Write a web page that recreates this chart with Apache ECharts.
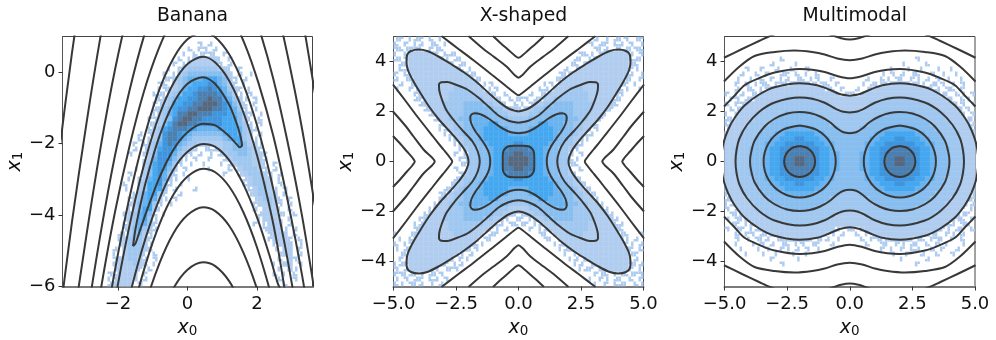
<!DOCTYPE html>
<html><head><meta charset="utf-8">
<style>html,body{margin:0;padding:0;background:#fff}#c{width:996px;height:340px}</style>
<script src="https://cdn.jsdelivr.net/npm/echarts@6/dist/echarts.min.js"></script>
</head><body><div id="c"></div>
<script>
const titles = ['Banana', 'X-shaped', 'Multimodal'];
const xTicksBanana = [-2, 0, 2];
const yTicksBanana = [-6, -4, -2, 0];
const xTicksWide = [-5, -2.5, 0, 2.5, 5];
const yTicksWide = [-4, -2, 0, 2, 4];

// Banana contours as [x0, x1]
const bananaA = [[-1.57,-4.87],[-1.5,-4.4],[-1.4,-3.91],[-1.2,-3.07],[-.8,-1.77],[-.4,-.86],[0,-.32],[.45,-.14],[.8,-.33],[1.2,-.91],[1.4,-1.39],[1.5,-1.7],[1.57,-2.05],[1.5,-2.1],[1.4,-2],[1.2,-1.79],[.8,-1.49],[.45,-1.44],[0,-1.68],[-.4,-2.16],[-.8,-2.93],[-1.2,-3.95],[-1.4,-4.52],[-1.5,-4.8],[-1.57,-4.87]];
const bananaB = [[-2.4,-8.25],[-2,-5.92],[-1.6,-3.98],[-1.2,-2.4],[-.8,-1.17],[-.4,-.3],[0,.23],[.45,.43],[.8,.27],[1.2,-.24],[1.6,-1.1],[2,-2.32],[2.4,-3.93],[2.6,-4.91],[2.8,-6.09],[2.84,-6.4],[2.6,-5.91],[2.4,-5.25],[2,-4.06],[1.6,-3.12],[1.2,-2.46],[.8,-2.09],[.45,-2.01],[0,-2.23],[-.4,-2.72],[-.8,-3.53],[-1.2,-4.62],[-1.6,-6],[-2,-7.66]];
const bananaCUp = [[-2.8,-9.86],[-2.4,-7.29],[-2,-5.08],[-1.6,-3.2],[-1.2,-1.66],[-.8,-.46],[-.4,.4],[0,.92],[.45,1.12],[.8,.98],[1.2,.5],[1.6,-.32],[2,-1.48],[2.4,-2.97],[2.8,-4.82],[3.2,-7.02]];
const bananaCLow = [[-2.4,-10.5],[-2,-8.5],[-1.6,-6.78],[-1.2,-5.36],[-.8,-4.24],[-.4,-3.42],[0,-2.92],[.45,-2.7],[.8,-2.8],[1.2,-3.2],[1.6,-3.9],[2,-4.9],[2.4,-6.21],[2.8,-7.8]];
const bananaDUp = [[-2.91,-8.61],[-2.5,-6.1],[-2.09,-3.92],[-1.67,-2.07],[-1.26,-.56],[-.84,.63],[-.43,1.48],[0,2],[.45,2.2],[.8,2.07],[1.23,1.6],[1.64,.81],[2.05,-.32],[2.47,-1.78],[2.88,-3.57],[3.3,-5.69],[3.71,-8.15]];
const bananaDLow = [[-2,-9.66],[-1.6,-7.91],[-1.2,-6.46],[-.8,-5.33],[-.4,-4.5],[0,-4],[.45,-3.78],[.8,-3.89],[1.2,-4.3],[1.6,-5.03],[2,-6.06],[2.4,-7.4]];
const bananaEUp = [[-3.74,-12.93],[-3.33,-9.79],[-2.91,-6.98],[-2.5,-4.5],[-2.09,-2.34],[-1.67,-.51],[-1.26,.99],[-.84,2.17],[-.43,3.02],[0,3.53],[.45,3.74],[.8,3.61],[1.23,3.15],[1.64,2.37],[2.05,1.26],[2.47,-.18],[2.88,-1.94],[3.3,-4.03],[3.71,-6.45]];
const bananaELow = [[-.8,-6.87],[-.4,-6.04],[0,-5.53],[.45,-5.32],[.8,-5.43],[1.2,-5.85],[1.6,-6.59]];
const bananaF = [[-3.74,-10.47],[-3.33,-7.35],[-2.91,-4.56],[-2.5,-2.09],[-2.09,.06],[-1.67,1.88],[-1.26,3.37],[.45,6.2],[1.64,4.76],[2.05,3.66],[2.47,2.23],[2.88,.48],[3.3,-1.59],[3.71,-3.99]];
const bananaG = [[-3.74,-7.31],[-3.33,-4.21],[-2.91,-1.43],[-2.5,1.03],[-2.09,3.17],[2.05,6.77],[2.47,5.35],[2.88,3.61],[3.3,1.55],[3.71,-.83]];
const bananaH = [[-3.74,-2.59],[-3.33,.52],[-2.91,3.3]];

// X-shaped contours: one quadrant of each, [|x0|, |x1|]
const xSquare = [[0,.63],[.2,.63],[.4,.61],[.52,.53],[.61,.4],[.63,.2],[.63,0]];
const xStar1 = [[0,1.13],[.3,1.17],[.6,1.3],[.9,1.5],[1.2,1.72],[1.5,1.88],[1.75,1.93],[1.88,1.88],[1.93,1.75],[1.88,1.5],[1.72,1.2],[1.5,.9],[1.3,.6],[1.17,.3],[1.13,0]];
const xStar2 = [[0,1.55],[.4,1.63],[.8,1.84],[1.2,2.2],[1.6,2.55],[2.05,2.88],[2.5,3.07],[2.85,3.18],[3.08,3.17],[3.18,3.08],[3.17,2.85],[3.07,2.5],[2.88,2.05],[2.55,1.6],[2.2,1.2],[1.84,.8],[1.63,.4],[1.55,0]];
const xLobe = [[0,2],[.4,2.12],[.8,2.4],[1.2,2.75],[1.7,3.2],[2.2,3.58],[2.7,3.9],[3.2,4.2],[3.65,4.42],[4,4.48],[4.3,4.42],[4.45,4.28],[4.48,4],[4.42,3.65],[4.2,3.2],[3.9,2.7],[3.58,2.2],[3.2,1.7],[2.75,1.2],[2.4,.8],[2.12,.4],[2,0]];
const xOpen1 = [[0,2.65],[.15,2.74],[.5,3.02],[1,3.42],[1.8,4.05],[2.4,4.5],[3.08,5.02]];
const xOpen2 = [[0,3.35],[.15,3.45],[.48,3.8],[1,4.2],[1.4,4.5],[2,5.02]];
const xOpen3 = [[0,4.15],[.15,4.24],[.4,4.46],[.7,4.72],[1.02,5.02]];

// Multimodal contours: one quadrant of each, [|x0|, |x1|]
const mCircle1 = [[2,.62],[2.31,.537],[2.537,.31],[2.62,0],[2.537,-.31],[2.31,-.537],[2,-.62],[1.69,-.537],[1.463,-.31],[1.38,0],[1.463,.31],[1.69,.537],[2,.62]];
const mCircle2 = [[2,1.44],[2.72,1.247],[3.247,.72],[3.44,0],[3.247,-.72],[2.72,-1.247],[2,-1.44],[1.28,-1.247],[.753,-.72],[.56,0],[.753,.72],[1.28,1.247],[2,1.44]];
const mC3 = [[0,1.13],[.25,1.17],[.5,1.32],[.8,1.58],[1.2,1.81],[1.6,1.94],[2,1.98],[2.5,1.92],[3,1.71],[3.4,1.4],[3.8,.83],[3.95,.3],[3.98,0]];
const mC4 = [[0,1.96],[.3,2],[.6,2.13],[1,2.35],[1.5,2.51],[2,2.56],[3,2.36],[3.6,2],[4.1,1.47],[4.4,.93],[4.52,.45],[4.56,0]];
const mC5 = [[0,2.63],[.4,2.7],[.8,2.87],[1.3,3.05],[2,3.13],[3,2.97],[3.6,2.69],[4.2,2.24],[4.6,1.74],[4.85,1.28],[5.05,.7],[5.13,0]];
const mC6 = [[0,3.33],[.5,3.42],[1,3.58],[1.5,3.67],[2,3.7],[3,3.56],[3.6,3.34],[4.2,3.05],[4.6,2.63],[5.02,2.2]];
const mC7 = [[0,4.05],[.5,4.12],[1,4.28],[1.5,4.38],[2.2,4.44],[3,4.38],[3.8,4.22],[4.4,3.8],[5.02,3.2]];
const mC8 = [[0,4.88],[.35,4.93],[.65,5.03],[1.3,5.25],[2.2,5.35],[3.15,5.03],[3.6,4.83],[4.3,4.5],[5.02,4.15]];

// Density levels (none = '.', 1 lightest .. 9 darkest), 50 x 50 bins, top row first
const bananaHeat = [
".......... .......... .......... .......... ..........",
".......... .......... .......1.1 .......... ..........",
".......... .......... .....1.11. 1......... ..........",
".......... .......... ....1.1111 1.1....... ..........",
".......... .......... ...1.12222 21.1...... ..........",
".......... .......... ..1.122222 21.1...... ..........",
".......... .......... .1.1233333 3221.1.... ..........",
".......... .......... 1.12344444 4432.1.1.. ..........",
".......... .......... 1123455566 65421.1... ..........",
".......... .........1 1.23456667 75421.1... ..........",
".......... .........1 1123566778 765321.1.. ..........",
".......... ........11 1234667888 875421.1.. ..........",
".......... ........11 2346677889 8865321.1. ..........",
".......... ........11 2366778899 9876421.1. ..........",
".......... ........12 3467788999 8876531.1. ..........",
".......... ........12 3568899888 7776542 1.1",
".......... .......112 3478998877 7766642 1.1",
".......... .......112 4689988777 77666431.1 ..........",
".......... .......123 6788876555 566665321. ..........",
".......... .....1.123 7887654444 44566532.1 ..........",
".......... .....1.124 7887543333 334566321. ..........",
".......... ....1.1235 7875433222 2233464221 ..........",
".......... ....1.1236 7764321.11 1233444321 ..........",
".......... ...1..1247 7753 21.1.1 .123344322 1.........",
".......... ......1257 7642 1.1..1 ..12333322 1.........",
".......... ......2367 7531.1..1. .1.1233322 1.1.......",
".......... ....1.2467 642.1....1 ...1.23332 1.1.......",
".......... ...1..2467 531.1..... ..1..12333 21.1......",
".......... ...1.12567 521..1.... ......1233 22.1......",
".......... ..1..23667 41.1...... ......1233 32.1......",
".......... ..1..23666 3.1...1... .......123 321.1.....",
".......... ....135663 1..1...... .......123 322.1.....",
".......... ...1235652 1.1....... ........12 3321.1....",
".......... ...1245631 .1........ ........12 2321.1....",
".......... ...1246621 .......... ........1. 2221.1....",
".......... ..1235641. 1......... .........1 22211.1...",
".......... ..1235631. .......... .........1 2221.1....",
".......... ..1235531. .......... ........1. 1222.1....",
".......... ..1245321. .......... .......... 12221.1...",
".......... .1124421.. .......... .......... .1222.1...",
".......... .1234321.. .......... .......... .12221.1..",
".......... .1233321.. .......... .......... ..1222.1..",
".......... 1.233321.. .......... .......... ..1.22.1..",
".......... 1.23331.1. .......... .......... ...122.1..",
".......... 1223321.1. .......... .......... ...1.21...",
".......... 1222321.1. .......... .......... ..1.22.1..",
".......... 122221.1.. .......... .......... ...1.21...",
".........1 12222.1... .......... .......... ..1.1.1...",
".........1 12221.1... .......... .......... ...1..1...",
".........1 2222.1.... .......... .......... ....1.....",
];
// One quadrant of each symmetric panel: first row is next to x1 = 0, first column next to x0 = 0
const xHeatQuadrant = [
"998665443311.............","98866544331.1............","887665443321.............",
"7666665443321............","66666665443221...........","556666654443211..........",
"4456666554433211.........","4444665554433221.........","33444455554433221........",
"223344445443332221.......","1223344444433332221......","1.122334444333322221.....",
"11.11223333333222221 1....","..1.1122233333222222 1....","....11.222333222222211..1",
".....11.22222222222221.1.",".......1122222222222211.1","........112222222222221.1",
".........1.1222222222211.","..........11.22222222211.","...........11.12222222111",
"............111.1222221.1","...............111.111111","..............1.11.11.1.1",
"...............1.1.111.11"].map(s=>s.replace(/ /g,''));
const mHeatQuadrant = [
"4455667889988766544433322","4455667888888766544433322","4445667788887766544433322",
"4445566777777665544333222","4444556667766655444333222","4444455666666554443333222",
"3344444555555444433332221","3333444444444444333322221","3333344444444443333222211",
"33333334444443333332221.1","222333333333333332222211.","22223333333333332222211.1",
"222222233333322222211.11.","1.122222222222222211.11.1",".1.112222222222211.11.1..",
"..1.11112222111.111.1.1..","...1..11.11.11.1.1.1..1..","......1.1.1.11..1.1..1...",
"........1..1..1..1..1....","..........1....1.........",".............1...........",
".........................",".........................",".........................","........................."];

const levelColors = {1:'#aecbf0',2:'#b0cdf0',3:'#a0c7ef',4:'#88beef',5:'#68b2ef',6:'#45a7ef',7:'#3f95dd',8:'#4a7fb0',9:'#56687f'};
const FONT = '"DejaVu Sans"';

function rev(s){return s.split('').reverse().join('');}
function unfold(q){
  const top = q.slice().reverse().map(r=>rev(r)+r);
  const bot = q.map(r=>rev(r)+r);
  return top.concat(bot);
}
function loop(q){
  const a=q, b=q.slice(0,-1).reverse().map(p=>[p[0],-p[1]]);
  const c=q.slice(1).map(p=>[-p[0],-p[1]]), d=q.slice(0,-1).reverse().map(p=>[-p[0],p[1]]);
  return a.concat(b,c,d);
}
function band(q,sx,sy,swap){
  const pts=q.slice().reverse().map(p=>[-p[0],p[1]]).concat(q.slice(1));
  return pts.map(p=>swap?[sx*p[1],p[0]]:[p[0],sy*p[1]]);
}
function cells(rows,xmin,xmax,ymin,ymax){
  const R=rows.map(s=>s.replace(/ /g,''));
  const n=R.length,m=50,dx=(xmax-xmin)/m,dy=(ymax-ymin)/n,out=[];
  R.forEach((s,r)=>{for(let c=0;c<s.length&&c<m;c++){const l=s[c];if(l!=='.')out.push([xmin+c*dx,ymax-r*dy,+l,r,c]);}});
  return {data:out,dx,dy};
}
function heatSeries(i,cell){
  return {type:'custom',coordinateSystem:'cartesian2d',xAxisIndex:i,yAxisIndex:i,silent:true,clip:true,z:1,
    animation:false,data:cell.data,encode:{x:0,y:1},
    renderItem(p,api){
      const a=api.coord([api.value(0),api.value(1)]),b=api.coord([api.value(0)+cell.dx,api.value(1)-cell.dy]);
      const fill=levelColors[api.value(2)];
      const x0=a[0],y0=a[1],w=b[0]-a[0],h=b[1]-a[1];
      if(api.value(2)===1){
        const r=api.value(3),c=api.value(4),skip=(r*5+c*3)%4,skip2=(r+c*2)%3===0?(skip+2)%4:-1;
        const children=[];
        for(let k=0;k<4;k++){ if(k===skip||k===skip2)continue;
          children.push({type:'rect',shape:{x:x0+(k%2)*w/2,y:y0+(k>>1)*h/2,width:w/2,height:h/2},style:{fill}});}
        return {type:'group',children};
      }
      return {type:'rect',shape:{x:x0-.2,y:y0-.2,width:w+.4,height:h+.4},style:{fill}};
    }};
}
function line(i,data){
  return {type:'line',xAxisIndex:i,yAxisIndex:i,data,showSymbol:false,smooth:.3,clip:true,silent:true,z:3,animation:false,
    lineStyle:{color:'#383838',width:2}};
}
const series=[];
series.push(heatSeries(0,cells(bananaHeat,-3.6,3.6,-6,1)));
series.push(heatSeries(1,cells(unfold(xHeatQuadrant),-5,5,-5,5)));
series.push(heatSeries(2,cells(unfold(mHeatQuadrant),-5,5,-5,5)));
[bananaA,bananaB,bananaCUp,bananaCLow,bananaDUp,bananaDLow,bananaEUp,bananaELow,bananaF,bananaG,bananaH].forEach(d=>series.push(line(0,d)));
[xSquare,xStar1,xStar2,xLobe].forEach(q=>series.push(line(1,loop(q))));
[xOpen1,xOpen2,xOpen3].forEach(q=>{
  series.push(line(1,band(q,1,1,false)));series.push(line(1,band(q,1,-1,false)));
  series.push(line(1,band(q,1,1,true)));series.push(line(1,band(q,-1,1,true)));
});
[mCircle1,mCircle2].forEach(c=>{series.push(line(2,c.map(p=>[p[0],p[1]])));series.push(line(2,c.map(p=>[-p[0],p[1]])));});
[mC3,mC4,mC5].forEach(q=>series.push(line(2,loop(q))));
[mC6,mC7,mC8].forEach(q=>{series.push(line(2,band(q,1,1,false)));series.push(line(2,band(q,1,-1,false)));});

const lefts=[62.5,393.5,724.5],widths=[250,250,250.5];
const minus=s=>String(s).replace('-','\u2212');
const nameStyle={rich:{i:{fontFamily:FONT,fontStyle:'italic',fontSize:19,color:'#111'},s:{fontFamily:FONT,fontSize:13.5,color:'#111',padding:[7,0,0,0]}}};
function xAxis(i,min,max,ticks,fmt){return {gridIndex:i,type:'value',min,max,splitLine:{show:false},
  axisLine:{show:true,onZero:false,lineStyle:{color:'#7a7a7a',width:2}},
  axisTick:{show:true,length:4,lineStyle:{color:'#333',width:1},customValues:ticks},
  axisLabel:{fontFamily:FONT,fontSize:18,color:'#111',margin:9,customValues:ticks,formatter:fmt,hideOverlap:false,showMinLabel:true,showMaxLabel:true},
  name:'{i|x}{s|0}',nameLocation:'middle',nameGap:30,nameTextStyle:nameStyle};}
function yAxis(i,min,max,ticks){return {gridIndex:i,type:'value',min,max,splitLine:{show:false},
  axisLine:{show:true,onZero:false,lineStyle:{color:'#555',width:1}},
  axisTick:{show:true,length:4,lineStyle:{color:'#333',width:1},customValues:ticks},
  axisLabel:{fontFamily:FONT,fontSize:18,color:'#111',margin:7,customValues:ticks,formatter:v=>minus(v)},
  name:'{i|x}{s|1}',nameLocation:'middle',nameGap:i===0?35:36,nameTextStyle:nameStyle};}
const f0=v=>minus(v), f1=v=>minus(v.toFixed(1));
const chart=echarts.init(document.getElementById('c'),null,{renderer:'canvas'});
chart.setOption({animation:false,backgroundColor:'#fff',
  title:titles.map((t,i)=>({text:t,left:lefts[i]+widths[i]/2,top:2,textAlign:'center',textStyle:{fontFamily:FONT,fontSize:18.8,fontWeight:'normal',color:'#111'}})),
  grid:lefts.map((l,i)=>({left:l,top:36.5,width:widths[i],height:250,show:true,borderColor:'#444',borderWidth:1,backgroundColor:'#fff',containLabel:false,outerBoundsMode:'none'})),
  xAxis:[xAxis(0,-3.6,3.6,xTicksBanana,f0),xAxis(1,-5,5,xTicksWide,f1),xAxis(2,-5,5,xTicksWide,f1)],
  yAxis:[yAxis(0,-6,1,yTicksBanana),yAxis(1,-5,5,yTicksWide),yAxis(2,-5,5,yTicksWide)],
  series});
</script></body></html>
